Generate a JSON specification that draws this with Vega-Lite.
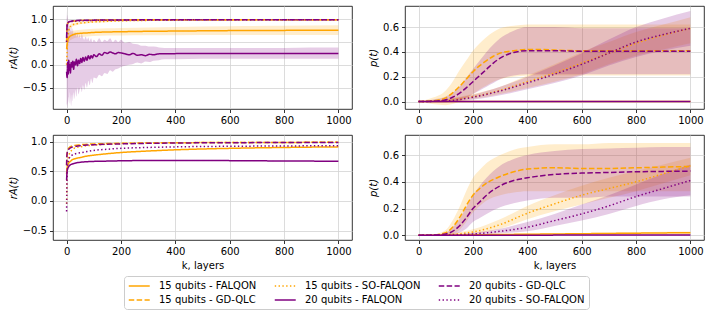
{
  "$schema": "https://vega.github.io/schema/vega-lite/v6.json",
  "background": "white",
  "padding": {"left": 7, "top": 5, "right": 5, "bottom": 8},
  "datasets": {
    "tl": [
      {"s":"15 qubits - FALQON","k":0,"y":0.35,"lo":0.22,"hi":0.48},
      {"s":"15 qubits - FALQON","k":3,"y":0.5,"lo":0.38,"hi":0.62},
      {"s":"15 qubits - FALQON","k":6,"y":0.57,"lo":0.46,"hi":0.68},
      {"s":"15 qubits - FALQON","k":10,"y":0.61,"lo":0.51,"hi":0.71},
      {"s":"15 qubits - FALQON","k":20,"y":0.65,"lo":0.56,"hi":0.74},
      {"s":"15 qubits - FALQON","k":35,"y":0.68,"lo":0.6,"hi":0.76},
      {"s":"15 qubits - FALQON","k":50,"y":0.69,"lo":0.61,"hi":0.77},
      {"s":"15 qubits - FALQON","k":75,"y":0.7,"lo":0.62,"hi":0.78},
      {"s":"15 qubits - FALQON","k":100,"y":0.71,"lo":0.63,"hi":0.79},
      {"s":"15 qubits - FALQON","k":150,"y":0.72,"lo":0.64,"hi":0.8},
      {"s":"15 qubits - FALQON","k":200,"y":0.725,"lo":0.645,"hi":0.81},
      {"s":"15 qubits - FALQON","k":300,"y":0.735,"lo":0.65,"hi":0.82},
      {"s":"15 qubits - FALQON","k":400,"y":0.74,"lo":0.65,"hi":0.83},
      {"s":"15 qubits - FALQON","k":600,"y":0.75,"lo":0.655,"hi":0.845},
      {"s":"15 qubits - FALQON","k":800,"y":0.755,"lo":0.655,"hi":0.855},
      {"s":"15 qubits - FALQON","k":1000,"y":0.76,"lo":0.655,"hi":0.865},
      {"s":"15 qubits - GD-QLC","k":0,"y":0.5,"lo":0.4,"hi":0.6},
      {"s":"15 qubits - GD-QLC","k":2,"y":0.85,"lo":0.8,"hi":0.9},
      {"s":"15 qubits - GD-QLC","k":5,"y":0.92,"lo":0.9,"hi":0.94},
      {"s":"15 qubits - GD-QLC","k":10,"y":0.94,"lo":0.93,"hi":0.95},
      {"s":"15 qubits - GD-QLC","k":20,"y":0.96,"lo":0.95,"hi":0.97},
      {"s":"15 qubits - GD-QLC","k":50,"y":0.97,"lo":0.96,"hi":0.98},
      {"s":"15 qubits - GD-QLC","k":100,"y":0.98,"lo":0.97,"hi":0.99},
      {"s":"15 qubits - GD-QLC","k":200,"y":0.985,"lo":0.975,"hi":0.995},
      {"s":"15 qubits - GD-QLC","k":400,"y":0.99,"lo":0.98,"hi":1.0},
      {"s":"15 qubits - GD-QLC","k":1000,"y":0.99,"lo":0.98,"hi":1.0},
      {"s":"15 qubits - SO-FALQON","k":0,"y":0.0,"lo":-0.1,"hi":0.1},
      {"s":"15 qubits - SO-FALQON","k":2,"y":0.3,"lo":0.2,"hi":0.4},
      {"s":"15 qubits - SO-FALQON","k":5,"y":0.6,"lo":0.52,"hi":0.68},
      {"s":"15 qubits - SO-FALQON","k":10,"y":0.8,"lo":0.75,"hi":0.85},
      {"s":"15 qubits - SO-FALQON","k":20,"y":0.87,"lo":0.83,"hi":0.91},
      {"s":"15 qubits - SO-FALQON","k":35,"y":0.9,"lo":0.87,"hi":0.93},
      {"s":"15 qubits - SO-FALQON","k":50,"y":0.915,"lo":0.89,"hi":0.94},
      {"s":"15 qubits - SO-FALQON","k":75,"y":0.93,"lo":0.905,"hi":0.955},
      {"s":"15 qubits - SO-FALQON","k":100,"y":0.94,"lo":0.92,"hi":0.96},
      {"s":"15 qubits - SO-FALQON","k":150,"y":0.955,"lo":0.935,"hi":0.975},
      {"s":"15 qubits - SO-FALQON","k":200,"y":0.965,"lo":0.95,"hi":0.98},
      {"s":"15 qubits - SO-FALQON","k":300,"y":0.975,"lo":0.96,"hi":0.99},
      {"s":"15 qubits - SO-FALQON","k":400,"y":0.98,"lo":0.97,"hi":0.99},
      {"s":"15 qubits - SO-FALQON","k":600,"y":0.985,"lo":0.975,"hi":0.995},
      {"s":"15 qubits - SO-FALQON","k":1000,"y":0.99,"lo":0.98,"hi":1.0},
      {"s":"20 qubits - FALQON","k":0,"y":-0.15,"lo":-0.9,"hi":1.2},
      {"s":"20 qubits - FALQON","k":2,"y":-0.28,"lo":-0.85,"hi":1.0},
      {"s":"20 qubits - FALQON","k":4,"y":0.05,"lo":-0.95,"hi":1.1},
      {"s":"20 qubits - FALQON","k":6,"y":-0.2,"lo":-0.7,"hi":0.9},
      {"s":"20 qubits - FALQON","k":8,"y":0.1,"lo":-0.8,"hi":0.95},
      {"s":"20 qubits - FALQON","k":10,"y":-0.12,"lo":-0.85,"hi":0.85},
      {"s":"20 qubits - FALQON","k":12,"y":0.0,"lo":-0.6,"hi":0.8},
      {"s":"20 qubits - FALQON","k":14,"y":-0.18,"lo":-0.75,"hi":0.75},
      {"s":"20 qubits - FALQON","k":17,"y":0.05,"lo":-0.9,"hi":0.85},
      {"s":"20 qubits - FALQON","k":20,"y":-0.05,"lo":-0.65,"hi":0.7},
      {"s":"20 qubits - FALQON","k":23,"y":0.08,"lo":-0.8,"hi":0.8},
      {"s":"20 qubits - FALQON","k":26,"y":-0.1,"lo":-0.6,"hi":0.65},
      {"s":"20 qubits - FALQON","k":29,"y":0.06,"lo":-0.75,"hi":0.7},
      {"s":"20 qubits - FALQON","k":32,"y":0.0,"lo":-0.55,"hi":0.72},
      {"s":"20 qubits - FALQON","k":36,"y":0.12,"lo":-0.7,"hi":0.62},
      {"s":"20 qubits - FALQON","k":40,"y":-0.02,"lo":-0.5,"hi":0.7},
      {"s":"20 qubits - FALQON","k":44,"y":0.1,"lo":-0.65,"hi":0.6},
      {"s":"20 qubits - FALQON","k":48,"y":0.03,"lo":-0.55,"hi":0.66},
      {"s":"20 qubits - FALQON","k":52,"y":0.14,"lo":-0.5,"hi":0.58},
      {"s":"20 qubits - FALQON","k":56,"y":0.05,"lo":-0.6,"hi":0.68},
      {"s":"20 qubits - FALQON","k":60,"y":0.16,"lo":-0.45,"hi":0.6},
      {"s":"20 qubits - FALQON","k":65,"y":0.08,"lo":-0.55,"hi":0.55},
      {"s":"20 qubits - FALQON","k":70,"y":0.17,"lo":-0.4,"hi":0.62},
      {"s":"20 qubits - FALQON","k":75,"y":0.1,"lo":-0.5,"hi":0.55},
      {"s":"20 qubits - FALQON","k":80,"y":0.2,"lo":-0.35,"hi":0.6},
      {"s":"20 qubits - FALQON","k":85,"y":0.13,"lo":-0.45,"hi":0.52},
      {"s":"20 qubits - FALQON","k":90,"y":0.2,"lo":-0.3,"hi":0.58},
      {"s":"20 qubits - FALQON","k":95,"y":0.15,"lo":-0.4,"hi":0.5},
      {"s":"20 qubits - FALQON","k":100,"y":0.22,"lo":-0.28,"hi":0.55},
      {"s":"20 qubits - FALQON","k":110,"y":0.18,"lo":-0.3,"hi":0.5},
      {"s":"20 qubits - FALQON","k":120,"y":0.24,"lo":-0.22,"hi":0.58},
      {"s":"20 qubits - FALQON","k":130,"y":0.21,"lo":-0.25,"hi":0.5},
      {"s":"20 qubits - FALQON","k":140,"y":0.27,"lo":-0.18,"hi":0.55},
      {"s":"20 qubits - FALQON","k":150,"y":0.25,"lo":-0.2,"hi":0.52},
      {"s":"20 qubits - FALQON","k":160,"y":0.28,"lo":-0.12,"hi":0.58},
      {"s":"20 qubits - FALQON","k":170,"y":0.26,"lo":-0.15,"hi":0.5},
      {"s":"20 qubits - FALQON","k":180,"y":0.24,"lo":-0.1,"hi":0.55},
      {"s":"20 qubits - FALQON","k":190,"y":0.27,"lo":-0.08,"hi":0.5},
      {"s":"20 qubits - FALQON","k":200,"y":0.26,"lo":-0.05,"hi":0.55},
      {"s":"20 qubits - FALQON","k":215,"y":0.24,"lo":-0.02,"hi":0.48},
      {"s":"20 qubits - FALQON","k":230,"y":0.22,"lo":0.0,"hi":0.5},
      {"s":"20 qubits - FALQON","k":245,"y":0.25,"lo":0.02,"hi":0.46},
      {"s":"20 qubits - FALQON","k":260,"y":0.21,"lo":0.05,"hi":0.45},
      {"s":"20 qubits - FALQON","k":275,"y":0.22,"lo":0.03,"hi":0.42},
      {"s":"20 qubits - FALQON","k":290,"y":0.2,"lo":0.07,"hi":0.42},
      {"s":"20 qubits - FALQON","k":305,"y":0.23,"lo":0.06,"hi":0.4},
      {"s":"20 qubits - FALQON","k":320,"y":0.22,"lo":0.09,"hi":0.4},
      {"s":"20 qubits - FALQON","k":340,"y":0.24,"lo":0.1,"hi":0.38},
      {"s":"20 qubits - FALQON","k":360,"y":0.24,"lo":0.12,"hi":0.37},
      {"s":"20 qubits - FALQON","k":400,"y":0.245,"lo":0.12,"hi":0.37},
      {"s":"20 qubits - FALQON","k":500,"y":0.25,"lo":0.13,"hi":0.37},
      {"s":"20 qubits - FALQON","k":600,"y":0.25,"lo":0.13,"hi":0.37},
      {"s":"20 qubits - FALQON","k":700,"y":0.25,"lo":0.13,"hi":0.37},
      {"s":"20 qubits - FALQON","k":800,"y":0.25,"lo":0.13,"hi":0.37},
      {"s":"20 qubits - FALQON","k":900,"y":0.25,"lo":0.13,"hi":0.38},
      {"s":"20 qubits - FALQON","k":1000,"y":0.25,"lo":0.13,"hi":0.38},
      {"s":"20 qubits - GD-QLC","k":0,"y":0.6,"lo":0.5,"hi":0.7},
      {"s":"20 qubits - GD-QLC","k":2,"y":0.88,"lo":0.85,"hi":0.91},
      {"s":"20 qubits - GD-QLC","k":5,"y":0.93,"lo":0.91,"hi":0.95},
      {"s":"20 qubits - GD-QLC","k":10,"y":0.95,"lo":0.94,"hi":0.96},
      {"s":"20 qubits - GD-QLC","k":20,"y":0.96,"lo":0.95,"hi":0.97},
      {"s":"20 qubits - GD-QLC","k":50,"y":0.975,"lo":0.965,"hi":0.985},
      {"s":"20 qubits - GD-QLC","k":100,"y":0.98,"lo":0.97,"hi":0.99},
      {"s":"20 qubits - GD-QLC","k":200,"y":0.985,"lo":0.975,"hi":0.995},
      {"s":"20 qubits - GD-QLC","k":1000,"y":0.99,"lo":0.98,"hi":1.0},
      {"s":"20 qubits - SO-FALQON","k":0,"y":0.5,"lo":0.4,"hi":0.6},
      {"s":"20 qubits - SO-FALQON","k":2,"y":0.85,"lo":0.8,"hi":0.9},
      {"s":"20 qubits - SO-FALQON","k":5,"y":0.92,"lo":0.9,"hi":0.94},
      {"s":"20 qubits - SO-FALQON","k":10,"y":0.94,"lo":0.93,"hi":0.95},
      {"s":"20 qubits - SO-FALQON","k":20,"y":0.95,"lo":0.94,"hi":0.96},
      {"s":"20 qubits - SO-FALQON","k":50,"y":0.965,"lo":0.955,"hi":0.975},
      {"s":"20 qubits - SO-FALQON","k":100,"y":0.975,"lo":0.965,"hi":0.985},
      {"s":"20 qubits - SO-FALQON","k":200,"y":0.98,"lo":0.97,"hi":0.99},
      {"s":"20 qubits - SO-FALQON","k":400,"y":0.985,"lo":0.975,"hi":0.995},
      {"s":"20 qubits - SO-FALQON","k":1000,"y":0.99,"lo":0.98,"hi":1.0}
    ],
    "tr": [
      {"s":"15 qubits - FALQON","k":0,"y":0,"lo":0,"hi":0.002},
      {"s":"15 qubits - FALQON","k":500,"y":0,"lo":0,"hi":0.002},
      {"s":"15 qubits - FALQON","k":1000,"y":0,"lo":0,"hi":0.002},
      {"s":"15 qubits - GD-QLC","k":0,"y":0,"lo":0,"hi":0},
      {"s":"15 qubits - GD-QLC","k":50,"y":0.005,"lo":-0.02,"hi":0.03},
      {"s":"15 qubits - GD-QLC","k":100,"y":0.03,"lo":-0.03,"hi":0.09},
      {"s":"15 qubits - GD-QLC","k":125,"y":0.07,"lo":-0.02,"hi":0.16},
      {"s":"15 qubits - GD-QLC","k":150,"y":0.12,"lo":0.0,"hi":0.25},
      {"s":"15 qubits - GD-QLC","k":175,"y":0.18,"lo":0.03,"hi":0.33},
      {"s":"15 qubits - GD-QLC","k":200,"y":0.24,"lo":0.06,"hi":0.41},
      {"s":"15 qubits - GD-QLC","k":225,"y":0.29,"lo":0.1,"hi":0.47},
      {"s":"15 qubits - GD-QLC","k":250,"y":0.33,"lo":0.13,"hi":0.52},
      {"s":"15 qubits - GD-QLC","k":275,"y":0.365,"lo":0.16,"hi":0.56},
      {"s":"15 qubits - GD-QLC","k":300,"y":0.39,"lo":0.18,"hi":0.59},
      {"s":"15 qubits - GD-QLC","k":350,"y":0.41,"lo":0.2,"hi":0.61},
      {"s":"15 qubits - GD-QLC","k":400,"y":0.42,"lo":0.21,"hi":0.62},
      {"s":"15 qubits - GD-QLC","k":450,"y":0.42,"lo":0.21,"hi":0.62},
      {"s":"15 qubits - GD-QLC","k":500,"y":0.415,"lo":0.21,"hi":0.62},
      {"s":"15 qubits - GD-QLC","k":600,"y":0.41,"lo":0.21,"hi":0.62},
      {"s":"15 qubits - GD-QLC","k":700,"y":0.41,"lo":0.21,"hi":0.62},
      {"s":"15 qubits - GD-QLC","k":800,"y":0.41,"lo":0.21,"hi":0.62},
      {"s":"15 qubits - GD-QLC","k":900,"y":0.41,"lo":0.21,"hi":0.62},
      {"s":"15 qubits - GD-QLC","k":1000,"y":0.41,"lo":0.21,"hi":0.62},
      {"s":"15 qubits - SO-FALQON","k":0,"y":0,"lo":0,"hi":0},
      {"s":"15 qubits - SO-FALQON","k":100,"y":0.01,"lo":0.0,"hi":0.02},
      {"s":"15 qubits - SO-FALQON","k":200,"y":0.04,"lo":0.02,"hi":0.06},
      {"s":"15 qubits - SO-FALQON","k":300,"y":0.09,"lo":0.06,"hi":0.12},
      {"s":"15 qubits - SO-FALQON","k":400,"y":0.16,"lo":0.11,"hi":0.21},
      {"s":"15 qubits - SO-FALQON","k":500,"y":0.23,"lo":0.16,"hi":0.3},
      {"s":"15 qubits - SO-FALQON","k":600,"y":0.31,"lo":0.22,"hi":0.4},
      {"s":"15 qubits - SO-FALQON","k":700,"y":0.39,"lo":0.3,"hi":0.48},
      {"s":"15 qubits - SO-FALQON","k":800,"y":0.47,"lo":0.37,"hi":0.56},
      {"s":"15 qubits - SO-FALQON","k":900,"y":0.535,"lo":0.42,"hi":0.62},
      {"s":"15 qubits - SO-FALQON","k":1000,"y":0.59,"lo":0.47,"hi":0.68},
      {"s":"20 qubits - FALQON","k":0,"y":0,"lo":0,"hi":0.002},
      {"s":"20 qubits - FALQON","k":500,"y":0,"lo":0,"hi":0.002},
      {"s":"20 qubits - FALQON","k":1000,"y":0,"lo":0,"hi":0.002},
      {"s":"20 qubits - GD-QLC","k":0,"y":0,"lo":0,"hi":0},
      {"s":"20 qubits - GD-QLC","k":50,"y":0.002,"lo":-0.01,"hi":0.015},
      {"s":"20 qubits - GD-QLC","k":100,"y":0.015,"lo":-0.01,"hi":0.04},
      {"s":"20 qubits - GD-QLC","k":125,"y":0.035,"lo":0.0,"hi":0.07},
      {"s":"20 qubits - GD-QLC","k":150,"y":0.065,"lo":0.01,"hi":0.12},
      {"s":"20 qubits - GD-QLC","k":175,"y":0.11,"lo":0.03,"hi":0.19},
      {"s":"20 qubits - GD-QLC","k":200,"y":0.16,"lo":0.06,"hi":0.26},
      {"s":"20 qubits - GD-QLC","k":225,"y":0.21,"lo":0.09,"hi":0.33},
      {"s":"20 qubits - GD-QLC","k":250,"y":0.26,"lo":0.12,"hi":0.4},
      {"s":"20 qubits - GD-QLC","k":275,"y":0.31,"lo":0.15,"hi":0.46},
      {"s":"20 qubits - GD-QLC","k":300,"y":0.35,"lo":0.18,"hi":0.51},
      {"s":"20 qubits - GD-QLC","k":350,"y":0.395,"lo":0.21,"hi":0.57},
      {"s":"20 qubits - GD-QLC","k":400,"y":0.41,"lo":0.22,"hi":0.6},
      {"s":"20 qubits - GD-QLC","k":450,"y":0.41,"lo":0.22,"hi":0.6},
      {"s":"20 qubits - GD-QLC","k":500,"y":0.41,"lo":0.22,"hi":0.6},
      {"s":"20 qubits - GD-QLC","k":600,"y":0.405,"lo":0.22,"hi":0.59},
      {"s":"20 qubits - GD-QLC","k":700,"y":0.405,"lo":0.22,"hi":0.59},
      {"s":"20 qubits - GD-QLC","k":800,"y":0.405,"lo":0.22,"hi":0.59},
      {"s":"20 qubits - GD-QLC","k":900,"y":0.405,"lo":0.22,"hi":0.59},
      {"s":"20 qubits - GD-QLC","k":1000,"y":0.405,"lo":0.22,"hi":0.59},
      {"s":"20 qubits - SO-FALQON","k":0,"y":0,"lo":0,"hi":0},
      {"s":"20 qubits - SO-FALQON","k":100,"y":0.005,"lo":0.0,"hi":0.015},
      {"s":"20 qubits - SO-FALQON","k":200,"y":0.035,"lo":0.015,"hi":0.055},
      {"s":"20 qubits - SO-FALQON","k":300,"y":0.085,"lo":0.05,"hi":0.12},
      {"s":"20 qubits - SO-FALQON","k":400,"y":0.15,"lo":0.1,"hi":0.2},
      {"s":"20 qubits - SO-FALQON","k":500,"y":0.22,"lo":0.15,"hi":0.29},
      {"s":"20 qubits - SO-FALQON","k":600,"y":0.3,"lo":0.21,"hi":0.39},
      {"s":"20 qubits - SO-FALQON","k":700,"y":0.39,"lo":0.29,"hi":0.5},
      {"s":"20 qubits - SO-FALQON","k":800,"y":0.48,"lo":0.36,"hi":0.6},
      {"s":"20 qubits - SO-FALQON","k":900,"y":0.54,"lo":0.41,"hi":0.67},
      {"s":"20 qubits - SO-FALQON","k":1000,"y":0.59,"lo":0.45,"hi":0.73}
    ],
    "bl": [
      {"s":"15 qubits - FALQON","k":0,"y":0.45},{"s":"15 qubits - FALQON","k":1,"y":0.52},{"s":"15 qubits - FALQON","k":2,"y":0.56},{"s":"15 qubits - FALQON","k":4,"y":0.6},{"s":"15 qubits - FALQON","k":7,"y":0.63},{"s":"15 qubits - FALQON","k":10,"y":0.65},{"s":"15 qubits - FALQON","k":15,"y":0.67},{"s":"15 qubits - FALQON","k":20,"y":0.69},{"s":"15 qubits - FALQON","k":30,"y":0.71},{"s":"15 qubits - FALQON","k":50,"y":0.73},{"s":"15 qubits - FALQON","k":75,"y":0.755},{"s":"15 qubits - FALQON","k":100,"y":0.77},{"s":"15 qubits - FALQON","k":150,"y":0.795},{"s":"15 qubits - FALQON","k":200,"y":0.815},{"s":"15 qubits - FALQON","k":300,"y":0.84},{"s":"15 qubits - FALQON","k":400,"y":0.86},{"s":"15 qubits - FALQON","k":600,"y":0.885},{"s":"15 qubits - FALQON","k":800,"y":0.9},{"s":"15 qubits - FALQON","k":1000,"y":0.91},
      {"s":"15 qubits - GD-QLC","k":0,"y":0.6},{"s":"15 qubits - GD-QLC","k":1,"y":0.75},{"s":"15 qubits - GD-QLC","k":2,"y":0.8},{"s":"15 qubits - GD-QLC","k":4,"y":0.85},{"s":"15 qubits - GD-QLC","k":7,"y":0.88},{"s":"15 qubits - GD-QLC","k":10,"y":0.9},{"s":"15 qubits - GD-QLC","k":15,"y":0.915},{"s":"15 qubits - GD-QLC","k":20,"y":0.925},{"s":"15 qubits - GD-QLC","k":30,"y":0.935},{"s":"15 qubits - GD-QLC","k":50,"y":0.945},{"s":"15 qubits - GD-QLC","k":75,"y":0.955},{"s":"15 qubits - GD-QLC","k":100,"y":0.96},{"s":"15 qubits - GD-QLC","k":150,"y":0.965},{"s":"15 qubits - GD-QLC","k":200,"y":0.97},{"s":"15 qubits - GD-QLC","k":300,"y":0.975},{"s":"15 qubits - GD-QLC","k":400,"y":0.98},{"s":"15 qubits - GD-QLC","k":600,"y":0.983},{"s":"15 qubits - GD-QLC","k":800,"y":0.985},{"s":"15 qubits - GD-QLC","k":1000,"y":0.987},
      {"s":"15 qubits - SO-FALQON","k":0,"y":-0.05},{"s":"15 qubits - SO-FALQON","k":1,"y":0.3},{"s":"15 qubits - SO-FALQON","k":2,"y":0.5},{"s":"15 qubits - SO-FALQON","k":4,"y":0.65},{"s":"15 qubits - SO-FALQON","k":7,"y":0.74},{"s":"15 qubits - SO-FALQON","k":10,"y":0.79},{"s":"15 qubits - SO-FALQON","k":15,"y":0.83},{"s":"15 qubits - SO-FALQON","k":20,"y":0.86},{"s":"15 qubits - SO-FALQON","k":30,"y":0.89},{"s":"15 qubits - SO-FALQON","k":50,"y":0.91},{"s":"15 qubits - SO-FALQON","k":75,"y":0.93},{"s":"15 qubits - SO-FALQON","k":100,"y":0.94},{"s":"15 qubits - SO-FALQON","k":150,"y":0.955},{"s":"15 qubits - SO-FALQON","k":200,"y":0.965},{"s":"15 qubits - SO-FALQON","k":300,"y":0.975},{"s":"15 qubits - SO-FALQON","k":400,"y":0.98},{"s":"15 qubits - SO-FALQON","k":600,"y":0.983},{"s":"15 qubits - SO-FALQON","k":800,"y":0.985},{"s":"15 qubits - SO-FALQON","k":1000,"y":0.987},
      {"s":"20 qubits - FALQON","k":0,"y":0.35},{"s":"20 qubits - FALQON","k":1,"y":0.45},{"s":"20 qubits - FALQON","k":2,"y":0.5},{"s":"20 qubits - FALQON","k":4,"y":0.54},{"s":"20 qubits - FALQON","k":7,"y":0.57},{"s":"20 qubits - FALQON","k":10,"y":0.59},{"s":"20 qubits - FALQON","k":15,"y":0.61},{"s":"20 qubits - FALQON","k":20,"y":0.62},{"s":"20 qubits - FALQON","k":30,"y":0.635},{"s":"20 qubits - FALQON","k":50,"y":0.65},{"s":"20 qubits - FALQON","k":75,"y":0.66},{"s":"20 qubits - FALQON","k":100,"y":0.665},{"s":"20 qubits - FALQON","k":150,"y":0.67},{"s":"20 qubits - FALQON","k":200,"y":0.675},{"s":"20 qubits - FALQON","k":300,"y":0.68},{"s":"20 qubits - FALQON","k":400,"y":0.68},{"s":"20 qubits - FALQON","k":600,"y":0.678},{"s":"20 qubits - FALQON","k":800,"y":0.672},{"s":"20 qubits - FALQON","k":1000,"y":0.668},
      {"s":"20 qubits - GD-QLC","k":0,"y":0.6},{"s":"20 qubits - GD-QLC","k":1,"y":0.75},{"s":"20 qubits - GD-QLC","k":2,"y":0.8},{"s":"20 qubits - GD-QLC","k":4,"y":0.84},{"s":"20 qubits - GD-QLC","k":7,"y":0.865},{"s":"20 qubits - GD-QLC","k":10,"y":0.88},{"s":"20 qubits - GD-QLC","k":15,"y":0.895},{"s":"20 qubits - GD-QLC","k":20,"y":0.905},{"s":"20 qubits - GD-QLC","k":30,"y":0.915},{"s":"20 qubits - GD-QLC","k":50,"y":0.93},{"s":"20 qubits - GD-QLC","k":75,"y":0.94},{"s":"20 qubits - GD-QLC","k":100,"y":0.945},{"s":"20 qubits - GD-QLC","k":150,"y":0.955},{"s":"20 qubits - GD-QLC","k":200,"y":0.96},{"s":"20 qubits - GD-QLC","k":300,"y":0.97},{"s":"20 qubits - GD-QLC","k":400,"y":0.975},{"s":"20 qubits - GD-QLC","k":600,"y":0.98},{"s":"20 qubits - GD-QLC","k":800,"y":0.983},{"s":"20 qubits - GD-QLC","k":1000,"y":0.985},
      {"s":"20 qubits - SO-FALQON","k":0,"y":-0.18},{"s":"20 qubits - SO-FALQON","k":1,"y":0.2},{"s":"20 qubits - SO-FALQON","k":2,"y":0.45},{"s":"20 qubits - SO-FALQON","k":4,"y":0.6},{"s":"20 qubits - SO-FALQON","k":7,"y":0.68},{"s":"20 qubits - SO-FALQON","k":10,"y":0.72},{"s":"20 qubits - SO-FALQON","k":15,"y":0.75},{"s":"20 qubits - SO-FALQON","k":20,"y":0.77},{"s":"20 qubits - SO-FALQON","k":30,"y":0.79},{"s":"20 qubits - SO-FALQON","k":50,"y":0.81},{"s":"20 qubits - SO-FALQON","k":75,"y":0.83},{"s":"20 qubits - SO-FALQON","k":100,"y":0.85},{"s":"20 qubits - SO-FALQON","k":150,"y":0.87},{"s":"20 qubits - SO-FALQON","k":200,"y":0.885},{"s":"20 qubits - SO-FALQON","k":300,"y":0.9},{"s":"20 qubits - SO-FALQON","k":400,"y":0.91},{"s":"20 qubits - SO-FALQON","k":600,"y":0.92},{"s":"20 qubits - SO-FALQON","k":800,"y":0.925},{"s":"20 qubits - SO-FALQON","k":1000,"y":0.93}
    ],
    "br": [
      {"s":"15 qubits - FALQON","k":0,"y":0,"lo":0,"hi":0},
      {"s":"15 qubits - FALQON","k":200,"y":0.004,"lo":0.002,"hi":0.007},
      {"s":"15 qubits - FALQON","k":400,"y":0.008,"lo":0.004,"hi":0.013},
      {"s":"15 qubits - FALQON","k":600,"y":0.012,"lo":0.007,"hi":0.018},
      {"s":"15 qubits - FALQON","k":800,"y":0.016,"lo":0.01,"hi":0.023},
      {"s":"15 qubits - FALQON","k":1000,"y":0.02,"lo":0.012,"hi":0.028},
      {"s":"15 qubits - GD-QLC","k":0,"y":0,"lo":0,"hi":0},
      {"s":"15 qubits - GD-QLC","k":50,"y":0.002,"lo":0,"hi":0.005},
      {"s":"15 qubits - GD-QLC","k":100,"y":0.02,"lo":0,"hi":0.04},
      {"s":"15 qubits - GD-QLC","k":125,"y":0.06,"lo":0.01,"hi":0.11},
      {"s":"15 qubits - GD-QLC","k":150,"y":0.13,"lo":0.04,"hi":0.21},
      {"s":"15 qubits - GD-QLC","k":175,"y":0.22,"lo":0.1,"hi":0.33},
      {"s":"15 qubits - GD-QLC","k":200,"y":0.3,"lo":0.17,"hi":0.43},
      {"s":"15 qubits - GD-QLC","k":225,"y":0.35,"lo":0.22,"hi":0.49},
      {"s":"15 qubits - GD-QLC","k":250,"y":0.39,"lo":0.26,"hi":0.54},
      {"s":"15 qubits - GD-QLC","k":300,"y":0.44,"lo":0.3,"hi":0.6},
      {"s":"15 qubits - GD-QLC","k":350,"y":0.475,"lo":0.32,"hi":0.64},
      {"s":"15 qubits - GD-QLC","k":400,"y":0.495,"lo":0.33,"hi":0.66},
      {"s":"15 qubits - GD-QLC","k":500,"y":0.505,"lo":0.33,"hi":0.68},
      {"s":"15 qubits - GD-QLC","k":600,"y":0.5,"lo":0.33,"hi":0.68},
      {"s":"15 qubits - GD-QLC","k":700,"y":0.5,"lo":0.33,"hi":0.69},
      {"s":"15 qubits - GD-QLC","k":800,"y":0.505,"lo":0.33,"hi":0.69},
      {"s":"15 qubits - GD-QLC","k":900,"y":0.51,"lo":0.33,"hi":0.69},
      {"s":"15 qubits - GD-QLC","k":1000,"y":0.515,"lo":0.33,"hi":0.69},
      {"s":"15 qubits - SO-FALQON","k":0,"y":0,"lo":0,"hi":0},
      {"s":"15 qubits - SO-FALQON","k":100,"y":0.005,"lo":0,"hi":0.01},
      {"s":"15 qubits - SO-FALQON","k":200,"y":0.025,"lo":0.01,"hi":0.045},
      {"s":"15 qubits - SO-FALQON","k":300,"y":0.08,"lo":0.05,"hi":0.12},
      {"s":"15 qubits - SO-FALQON","k":400,"y":0.165,"lo":0.12,"hi":0.22},
      {"s":"15 qubits - SO-FALQON","k":500,"y":0.235,"lo":0.18,"hi":0.3},
      {"s":"15 qubits - SO-FALQON","k":600,"y":0.3,"lo":0.23,"hi":0.37},
      {"s":"15 qubits - SO-FALQON","k":700,"y":0.35,"lo":0.28,"hi":0.43},
      {"s":"15 qubits - SO-FALQON","k":800,"y":0.4,"lo":0.33,"hi":0.48},
      {"s":"15 qubits - SO-FALQON","k":900,"y":0.46,"lo":0.39,"hi":0.53},
      {"s":"15 qubits - SO-FALQON","k":1000,"y":0.52,"lo":0.45,"hi":0.58},
      {"s":"20 qubits - FALQON","k":0,"y":0,"lo":0,"hi":0},
      {"s":"20 qubits - FALQON","k":200,"y":0.001,"lo":0,"hi":0.002},
      {"s":"20 qubits - FALQON","k":400,"y":0.001,"lo":0,"hi":0.003},
      {"s":"20 qubits - FALQON","k":600,"y":0.002,"lo":0,"hi":0.004},
      {"s":"20 qubits - FALQON","k":800,"y":0.002,"lo":0,"hi":0.005},
      {"s":"20 qubits - FALQON","k":1000,"y":0.003,"lo":0,"hi":0.006},
      {"s":"20 qubits - GD-QLC","k":0,"y":0,"lo":0,"hi":0},
      {"s":"20 qubits - GD-QLC","k":50,"y":0.001,"lo":0,"hi":0.003},
      {"s":"20 qubits - GD-QLC","k":100,"y":0.01,"lo":0,"hi":0.02},
      {"s":"20 qubits - GD-QLC","k":125,"y":0.03,"lo":0.005,"hi":0.06},
      {"s":"20 qubits - GD-QLC","k":150,"y":0.07,"lo":0.02,"hi":0.12},
      {"s":"20 qubits - GD-QLC","k":175,"y":0.13,"lo":0.05,"hi":0.21},
      {"s":"20 qubits - GD-QLC","k":200,"y":0.2,"lo":0.1,"hi":0.3},
      {"s":"20 qubits - GD-QLC","k":225,"y":0.25,"lo":0.13,"hi":0.37},
      {"s":"20 qubits - GD-QLC","k":250,"y":0.3,"lo":0.16,"hi":0.43},
      {"s":"20 qubits - GD-QLC","k":300,"y":0.37,"lo":0.21,"hi":0.52},
      {"s":"20 qubits - GD-QLC","k":350,"y":0.41,"lo":0.24,"hi":0.57},
      {"s":"20 qubits - GD-QLC","k":400,"y":0.43,"lo":0.26,"hi":0.6},
      {"s":"20 qubits - GD-QLC","k":500,"y":0.455,"lo":0.28,"hi":0.63},
      {"s":"20 qubits - GD-QLC","k":600,"y":0.465,"lo":0.28,"hi":0.645},
      {"s":"20 qubits - GD-QLC","k":700,"y":0.47,"lo":0.29,"hi":0.65},
      {"s":"20 qubits - GD-QLC","k":800,"y":0.475,"lo":0.29,"hi":0.655},
      {"s":"20 qubits - GD-QLC","k":900,"y":0.478,"lo":0.29,"hi":0.66},
      {"s":"20 qubits - GD-QLC","k":1000,"y":0.48,"lo":0.29,"hi":0.66},
      {"s":"20 qubits - SO-FALQON","k":0,"y":0,"lo":0,"hi":0},
      {"s":"20 qubits - SO-FALQON","k":100,"y":0.001,"lo":0,"hi":0.003},
      {"s":"20 qubits - SO-FALQON","k":200,"y":0.01,"lo":0.003,"hi":0.02},
      {"s":"20 qubits - SO-FALQON","k":300,"y":0.03,"lo":0.015,"hi":0.05},
      {"s":"20 qubits - SO-FALQON","k":400,"y":0.06,"lo":0.03,"hi":0.1},
      {"s":"20 qubits - SO-FALQON","k":500,"y":0.11,"lo":0.07,"hi":0.16},
      {"s":"20 qubits - SO-FALQON","k":600,"y":0.16,"lo":0.11,"hi":0.23},
      {"s":"20 qubits - SO-FALQON","k":700,"y":0.22,"lo":0.16,"hi":0.3},
      {"s":"20 qubits - SO-FALQON","k":800,"y":0.29,"lo":0.22,"hi":0.38},
      {"s":"20 qubits - SO-FALQON","k":900,"y":0.35,"lo":0.27,"hi":0.46},
      {"s":"20 qubits - SO-FALQON","k":1000,"y":0.41,"lo":0.3,"hi":0.53}
    ]
  },
  "vconcat": [
    {
      "hconcat": [
        {
          "width": 299, "height": 103,
          "data": {"name": "tl"},
          "layer": [
            {
              "mark": {"type": "area", "opacity": 0.2, "interpolate": "monotone", "clip": true},
              "encoding": {
                "x": {"field": "k", "type": "quantitative", "scale": {"domain": [-50, 1050], "nice": false, "zero": false}, "axis": {"title": null, "values": [0, 200, 400, 600, 800, 1000], "format": "d", "labelOverlap": false}},
                "y": {"field": "lo", "type": "quantitative", "scale": {"domain": [-0.97, 1.29], "nice": false, "zero": false}, "axis": {"title": "rA(t)", "values": [-0.5, 0, 0.5, 1], "format": ".1f", "labelOverlap": false}},
                "y2": {"field": "hi"},
                "fill": {"field": "s", "type": "nominal", "legend": null, "scale": {"domain": ["15 qubits - FALQON", "15 qubits - GD-QLC", "15 qubits - SO-FALQON", "20 qubits - FALQON", "20 qubits - GD-QLC", "20 qubits - SO-FALQON"], "range": ["#ffa500", "#ffa500", "#ffa500", "#800080", "#800080", "#800080"]}}
              }
            },
            {
              "mark": {"type": "line", "strokeWidth": 1.5, "interpolate": "monotone", "clip": true},
              "encoding": {
                "x": {"field": "k", "type": "quantitative", "scale": {"domain": [-50, 1050], "nice": false, "zero": false}, "axis": {"title": null, "values": [0, 200, 400, 600, 800, 1000], "format": "d", "labelOverlap": false}},
                "y": {"field": "y", "type": "quantitative", "scale": {"domain": [-0.97, 1.29], "nice": false, "zero": false}, "axis": {"title": "rA(t)", "values": [-0.5, 0, 0.5, 1], "format": ".1f", "labelOverlap": false}},
                "color": {"field": "s", "type": "nominal", "scale": {"domain": ["15 qubits - FALQON", "15 qubits - SO-FALQON", "20 qubits - GD-QLC", "15 qubits - GD-QLC", "20 qubits - FALQON", "20 qubits - SO-FALQON"], "range": ["#ffa500", "#ffa500", "#800080", "#ffa500", "#800080", "#800080"]},
                  "legend": {"orient": "none", "legendX": 71, "legendY": 270, "title": null, "columns": 3, "direction": "horizontal"}},
                "strokeDash": {"field": "s", "type": "nominal", "scale": {"domain": ["15 qubits - FALQON", "15 qubits - SO-FALQON", "20 qubits - GD-QLC", "15 qubits - GD-QLC", "20 qubits - FALQON", "20 qubits - SO-FALQON"], "range": [[1, 0], [1.4, 2.4], [5.5, 2.4], [5.5, 2.4], [1, 0], [1.4, 2.4]]},
                  "legend": {"orient": "none", "legendX": 71, "legendY": 270, "title": null, "columns": 3, "direction": "horizontal"}}
              }
            }
          ]
        },
        {
          "width": 299, "height": 103,
          "data": {"name": "tr"},
          "layer": [
            {
              "mark": {"type": "area", "opacity": 0.2, "interpolate": "monotone", "clip": true},
              "encoding": {
                "x": {"field": "k", "type": "quantitative", "scale": {"domain": [-50, 1050], "nice": false, "zero": false}, "axis": {"title": null, "values": [0, 200, 400, 600, 800, 1000], "format": "d", "labelOverlap": false}},
                "y": {"field": "lo", "type": "quantitative", "scale": {"domain": [-0.06, 0.77], "nice": false, "zero": false}, "axis": {"title": "p(t)", "values": [0, 0.2, 0.4, 0.6], "format": ".1f", "labelOverlap": false}},
                "y2": {"field": "hi"},
                "fill": {"field": "s", "type": "nominal", "legend": null}
              }
            },
            {
              "mark": {"type": "line", "strokeWidth": 1.5, "interpolate": "monotone", "clip": true},
              "encoding": {
                "x": {"field": "k", "type": "quantitative", "scale": {"domain": [-50, 1050], "nice": false, "zero": false}, "axis": {"title": null, "values": [0, 200, 400, 600, 800, 1000], "format": "d", "labelOverlap": false}},
                "y": {"field": "y", "type": "quantitative", "scale": {"domain": [-0.06, 0.77], "nice": false, "zero": false}, "axis": {"title": "p(t)", "values": [0, 0.2, 0.4, 0.6], "format": ".1f", "labelOverlap": false}},
                "color": {"field": "s", "type": "nominal"},
                "strokeDash": {"field": "s", "type": "nominal"}
              }
            }
          ]
        }
      ]
    },
    {
      "hconcat": [
        {
          "width": 299, "height": 105,
          "data": {"name": "bl"},
          "mark": {"type": "line", "strokeWidth": 1.5, "interpolate": "monotone", "clip": true},
          "encoding": {
            "x": {"field": "k", "type": "quantitative", "scale": {"domain": [-50, 1050], "nice": false, "zero": false}, "axis": {"title": "k, layers", "titleFontStyle": "normal", "values": [0, 200, 400, 600, 800, 1000], "format": "d", "labelOverlap": false}},
            "y": {"field": "y", "type": "quantitative", "scale": {"domain": [-0.66, 1.11], "nice": false, "zero": false}, "axis": {"title": "rA(t)", "values": [-0.5, 0, 0.5, 1], "format": ".1f", "labelOverlap": false}},
            "color": {"field": "s", "type": "nominal"},
            "strokeDash": {"field": "s", "type": "nominal"}
          }
        },
        {
          "width": 299, "height": 105,
          "data": {"name": "br"},
          "layer": [
            {
              "mark": {"type": "area", "opacity": 0.2, "interpolate": "monotone", "clip": true},
              "encoding": {
                "x": {"field": "k", "type": "quantitative", "scale": {"domain": [-50, 1050], "nice": false, "zero": false}, "axis": {"title": "k, layers", "titleFontStyle": "normal", "values": [0, 200, 400, 600, 800, 1000], "format": "d", "labelOverlap": false}},
                "y": {"field": "lo", "type": "quantitative", "scale": {"domain": [-0.035, 0.75], "nice": false, "zero": false}, "axis": {"title": "p(t)", "values": [0, 0.2, 0.4, 0.6], "format": ".1f", "labelOverlap": false}},
                "y2": {"field": "hi"},
                "fill": {"field": "s", "type": "nominal", "legend": null}
              }
            },
            {
              "mark": {"type": "line", "strokeWidth": 1.5, "interpolate": "monotone", "clip": true},
              "encoding": {
                "x": {"field": "k", "type": "quantitative", "scale": {"domain": [-50, 1050], "nice": false, "zero": false}, "axis": {"title": "k, layers", "titleFontStyle": "normal", "values": [0, 200, 400, 600, 800, 1000], "format": "d", "labelOverlap": false}},
                "y": {"field": "y", "type": "quantitative", "scale": {"domain": [-0.035, 0.75], "nice": false, "zero": false}, "axis": {"title": "p(t)", "values": [0, 0.2, 0.4, 0.6], "format": ".1f", "labelOverlap": false}},
                "color": {"field": "s", "type": "nominal"},
                "strokeDash": {"field": "s", "type": "nominal"}
              }
            }
          ]
        }
      ]
    }
  ],
  "spacing": 8,
  "resolve": {"scale": {"color": "shared", "strokeDash": "shared", "fill": "shared"}},
  "config": {
    "font": "DejaVu Sans",
    "view": {"stroke": "#000000", "strokeWidth": 0.8},
    "concat": {"spacing": 15},
    "axis": {
      "domain": false, "grid": true, "gridColor": "#d3d3d3", "gridWidth": 0.8,
      "tickColor": "#000000", "tickSize": 3.5, "tickWidth": 0.8,
      "labelFont": "DejaVu Sans", "labelFontSize": 10, "labelColor": "#000000", "labelPadding": 3,
      "labelFlush": false, "labelOverlap": false,
      "titleFont": "DejaVu Sans", "titleFontSize": 10, "titleFontWeight": "normal", "titleFontStyle": "italic", "titleColor": "#000000", "titlePadding": 4
    },
    "legend": {
      "symbolType": "M-1,0H3", "symbolSize": 110, "symbolStrokeWidth": 1.5,
      "labelFont": "DejaVu Sans", "labelFontSize": 10, "labelColor": "#000000", "labelOffset": 19,
      "columnPadding": 14, "rowPadding": 3, "padding": 4,
      "strokeColor": "#cccccc", "fillColor": "#ffffff", "cornerRadius": 3
    }
  }
}
